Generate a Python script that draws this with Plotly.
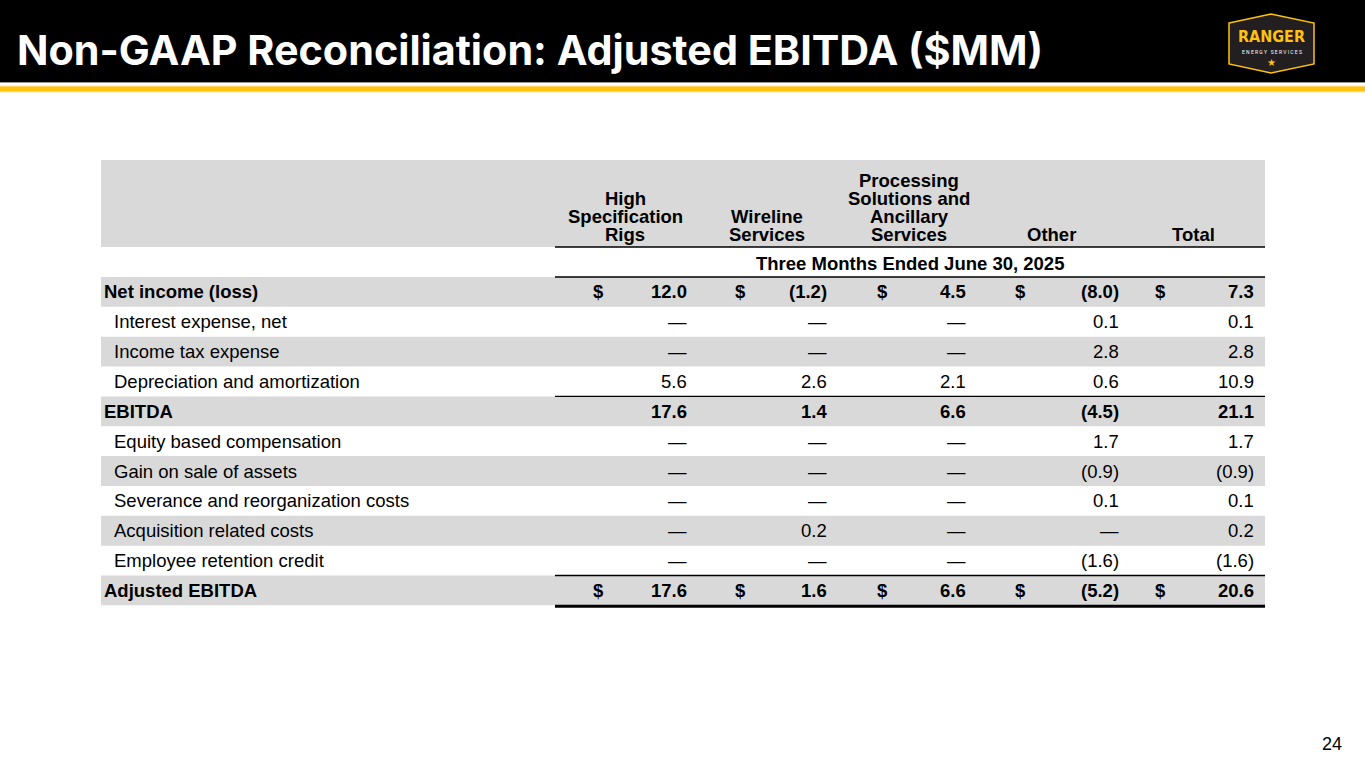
import plotly.graph_objects as go

# datos de la tabla (millones de USD)
titulo = "Non-GAAP Reconciliation: Adjusted EBITDA ($MM)"
periodo = "Three Months Ended June 30, 2025"
encabezados = [
    ["High", "Specification", "Rigs"],
    ["Wireline", "Services"],
    ["Processing", "Solutions and", "Ancillary", "Services"],
    ["Other"],
    ["Total"],
]
filas = [
    "Net income (loss)",
    "Interest expense, net",
    "Income tax expense",
    "Depreciation and amortization",
    "EBITDA",
    "Equity based compensation",
    "Gain on sale of assets",
    "Severance and reorganization costs",
    "Acquisition related costs",
    "Employee retention credit",
    "Adjusted EBITDA",
]
high_spec = [12.0, None, None, 5.6, 17.6, None, None, None, None, None, 17.6]
wireline = [-1.2, None, None, 2.6, 1.4, None, None, None, 0.2, None, 1.6]
processing = [4.5, None, None, 2.1, 6.6, None, None, None, None, None, 6.6]
other = [-8.0, 0.1, 2.8, 0.6, -4.5, 1.7, -0.9, 0.1, None, -1.6, -5.2]
total = [7.3, 0.1, 2.8, 10.9, 21.1, 1.7, -0.9, 0.1, 0.2, -1.6, 20.6]
filas_negrita = ["Net income (loss)", "EBITDA", "Adjusted EBITDA"]
filas_dolar = ["Net income (loss)", "Adjusted EBITDA"]
pagina = "24"

columnas = [high_spec, wireline, processing, other, total]

# geometria (pixeles de la diapositiva)
W, H = 1365, 768
TX0, TX1 = 101, 1265
COL_X0 = 555
col_centro = [625, 767, 909, 1051, 1193]
col_dolar = [598, 740, 882, 1020, 1160]
col_der = [689, 829, 968, 1121, 1256]
fila_y0 = 277
fila_h = 29.85
GRIS = "#D9D9D9"
AMARILLO = "#FFC20E"
FUENTE = "Liberation Sans"
TAM = 18.5


def formato(v):
    if v is None:
        return "\u2014"
    if v < 0:
        return "(%.1f)" % abs(v)
    return "%.1f" % v


fig = go.Figure()
shapes = []
anns = []

# barra superior
shapes.append(dict(type="rect", x0=-5, x1=W + 5, y0=-5, y1=82, fillcolor="black", line_width=0))
shapes.append(dict(type="line", x0=0, x1=W, y0=82.5, y1=82.5, line=dict(color="#9a9a9a", width=1)))
shapes.append(dict(type="rect", x0=0, x1=W, y0=85.5, y1=92.5, fillcolor="#FFE9A8", line_width=0))
shapes.append(dict(type="rect", x0=0, x1=W, y0=86.5, y1=91.5, fillcolor=AMARILLO, line_width=0))
anns.append(dict(x=15, y=50, text=titulo, xanchor="left", yanchor="middle", showarrow=False,
                 font=dict(family="Inter", size=41.3, color="white", weight=700)))

# logo
shapes.append(dict(type="path", path="M 1229,23 L 1271,14 L 1314,23 L 1314,64 L 1271,73 L 1229,64 Z",
                   fillcolor="#231F20", line=dict(color=AMARILLO, width=1.5)))
anns.append(dict(x=1271.5, y=36, text="RANGER", showarrow=False, xanchor="center", yanchor="middle",
                 font=dict(family="Liberation Sans Narrow, DejaVu Sans Condensed", size=16,
                           color=AMARILLO, weight=700)))
anns.append(dict(x=1271.5, y=52, text="E N E R G Y   S E R V I C E S", showarrow=False,
                 xanchor="center", yanchor="middle", font=dict(family="Roboto", size=5, color="white")))
anns.append(dict(x=1271.5, y=62, text="\u2605", showarrow=False, xanchor="center", yanchor="middle",
                 font=dict(family="DejaVu Sans", size=10, color=AMARILLO)))

# encabezado de la tabla
shapes.append(dict(type="rect", x0=TX0, x1=TX1, y0=160, y1=247, fillcolor=GRIS, line_width=0))
for c, lineas in enumerate(encabezados):
    n = len(lineas)
    for k, t in enumerate(lineas):
        anns.append(dict(x=col_centro[c], y=234 - (n - 1 - k) * 18, text="<b>%s</b>" % t,
                         showarrow=False, xanchor="center", yanchor="middle", borderpad=0,
                         font=dict(family=FUENTE, size=TAM, color="black")))
anns.append(dict(x=(COL_X0 + TX1) / 2, y=263, text="<b>%s</b>" % periodo, showarrow=False,
                 xanchor="center", yanchor="middle", font=dict(family=FUENTE, size=TAM, color="black")))

# filas
for i, nombre in enumerate(filas):
    y0 = fila_y0 + i * fila_h
    yc = y0 + fila_h / 2
    if i % 2 == 0:
        shapes.append(dict(type="rect", x0=TX0, x1=TX1, y0=y0, y1=y0 + fila_h, fillcolor=GRIS,
                           line_width=0, layer="below"))
    negrita = nombre in filas_negrita
    etiqueta = "<b>%s</b>" % nombre if negrita else nombre
    anns.append(dict(x=TX0 + 1 if negrita else TX0 + 11, y=yc, text=etiqueta, showarrow=False,
                     xanchor="left", yanchor="middle", font=dict(family=FUENTE, size=TAM, color="black")))
    for c, serie in enumerate(columnas):
        txt = formato(serie[i])
        if negrita:
            txt = "<b>%s</b>" % txt
        anns.append(dict(x=col_der[c], y=yc, text=txt, showarrow=False, xanchor="right",
                         yanchor="middle", font=dict(family=FUENTE, size=TAM, color="black")))
        if nombre in filas_dolar:
            anns.append(dict(x=col_dolar[c], y=yc, text="<b>$</b>", showarrow=False, xanchor="center",
                             yanchor="middle", font=dict(family=FUENTE, size=TAM, color="black")))

# lineas de la tabla
for yl in [247, fila_y0, fila_y0 + 4 * fila_h, fila_y0 + 10 * fila_h]:
    shapes.append(dict(type="line", x0=COL_X0, x1=TX1, y0=yl, y1=yl, line=dict(color="black", width=1.3)))
shapes.append(dict(type="line", x0=COL_X0, x1=TX1, y0=fila_y0 + 11 * fila_h + 1, y1=fila_y0 + 11 * fila_h + 1,
                   line=dict(color="black", width=3)))

anns.append(dict(x=1332, y=744, text=pagina, showarrow=False, xanchor="center", yanchor="middle",
                 font=dict(family=FUENTE, size=18, color="black")))

for s in shapes:
    s.setdefault("xref", "x")
    s.setdefault("yref", "y")
for a in anns:
    a.setdefault("xref", "x")
    a.setdefault("yref", "y")

fig.update_layout(
    width=W, height=H,
    margin=dict(l=0, r=0, t=0, b=0),
    paper_bgcolor="white", plot_bgcolor="white",
    xaxis=dict(range=[0, W], visible=False, fixedrange=True),
    yaxis=dict(range=[H, 0], visible=False, fixedrange=True),
    shapes=shapes, annotations=anns, showlegend=False,
)

# quitar el margen del body para que la diapositiva quede en 0,0
fig.write_html("out.html", config={"displayModeBar": False},
               post_script="document.body.style.margin='0';document.body.style.overflow='hidden';")
